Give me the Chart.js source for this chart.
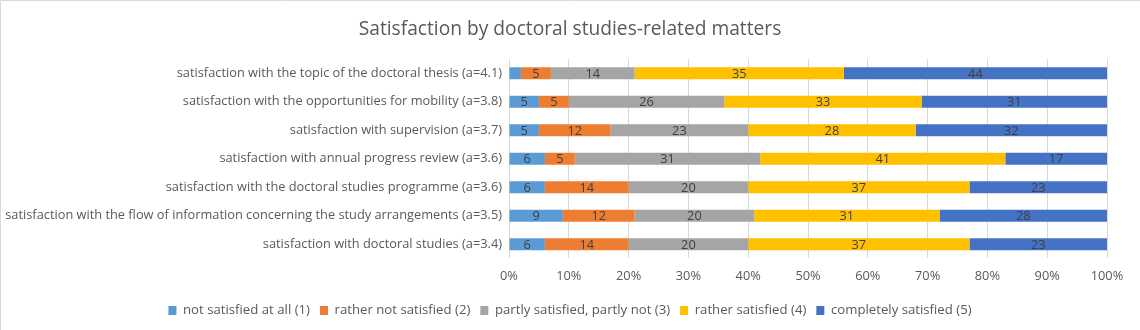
<!DOCTYPE html>
<html>
<head>
<meta charset="utf-8">
<script src="https://cdn.jsdelivr.net/npm/chart.js@4/dist/chart.umd.min.js"></script>
<style>
  html, body { margin: 0; padding: 0; background: #fff; }
  #wrap { width: 1140px; height: 330px; position: relative; }
</style>
</head>
<body>
<div id="wrap"><canvas id="c" width="1140" height="330"></canvas></div>
<script>
const categories = [
  "satisfaction with the topic of the doctoral thesis (a=4.1)",
  "satisfaction with the opportunities for mobility (a=3.8)",
  "satisfaction with supervision (a=3.7)",
  "satisfaction with annual progress review (a=3.6)",
  "satisfaction with the doctoral studies programme (a=3.6)",
  "satisfaction with the flow of information concerning the study arrangements (a=3.5)",
  "satisfaction with doctoral studies (a=3.4)"
];
const seriesNames = [
  "not satisfied at all (1)",
  "rather not satisfied (2)",
  "partly satisfied, partly not (3)",
  "rather satisfied (4)",
  "completely satisfied (5)"
];
const notSatisfied       = [2, 5, 5, 6, 6, 9, 6];
const ratherNotSatisfied = [5, 5, 12, 5, 14, 12, 14];
const partlySatisfied    = [14, 26, 23, 31, 20, 20, 20];
const ratherSatisfied    = [35, 33, 28, 41, 37, 31, 37];
const completelySatisfied= [44, 31, 32, 17, 23, 28, 23];
const xTicks = [0, 10, 20, 30, 40, 50, 60, 70, 80, 90, 100];
const colors = ["#5B9BD5", "#ED7D31", "#A5A5A5", "#FFC000", "#4472C4"];

const seriesValues = [notSatisfied, ratherNotSatisfied, partlySatisfied, ratherSatisfied, completelySatisfied];
const FONT = "'Open Sans', 'Liberation Sans', Arial, sans-serif";

const frame = {
  id: 'frame',
  afterLayout(chart) {
    // center title and legend on the full canvas width
    [chart.titleBlock, chart.legend].forEach(b => {
      if (!b) return;
      b.left = 0; b.right = chart.width; b.width = chart.width;
    });
  },
  beforeDraw(chart) {
    const ctx = chart.ctx;
    ctx.save();
    ctx.fillStyle = '#fff';
    ctx.fillRect(0, 0, chart.width, chart.height);
    ctx.strokeStyle = '#d9d9d9';
    ctx.lineWidth = 1;
    ctx.beginPath();
    ctx.moveTo(0.5, chart.height);
    ctx.lineTo(0.5, 0.5);
    ctx.lineTo(chart.width, 0.5);
    ctx.stroke();
    ctx.restore();
  }
};

const barLabels = {
  id: 'barLabels',
  afterDatasetsDraw(chart) {
    const ctx = chart.ctx;
    ctx.save();
    ctx.font = "12.8px " + FONT;
    ctx.fillStyle = '#404040';
    ctx.textAlign = 'center';
    ctx.textBaseline = 'middle';
    chart.data.datasets.forEach((ds, di) => {
      const meta = chart.getDatasetMeta(di);
      meta.data.forEach((bar, i) => {
        const v = ds.data[i];
        if (v < 3) return;
        const cx = (bar.x + bar.base) / 2;
        ctx.fillText(String(v), cx, bar.y + 1);
      });
    });
    ctx.restore();
  }
};

new Chart(document.getElementById('c'), {
  type: 'bar',
  data: {
    labels: categories,
    datasets: seriesValues.map((vals, i) => ({
      label: seriesNames[i],
      data: vals,
      backgroundColor: colors[i],
      borderWidth: 0,
      barPercentage: 0.42,
      categoryPercentage: 1
    }))
  },
  options: {
    indexAxis: 'y',
    responsive: false,
    animation: false,
    devicePixelRatio: 1,
    layout: { padding: { left: 0, right: 33, top: 0, bottom: 3 } },
    plugins: {
      title: {
        display: true,
        text: "Satisfaction by doctoral studies-related matters",
        color: '#595959',
        font: { family: FONT, size: 19.2, weight: 'normal', lineHeight: 1.2 },
        padding: { top: 18, bottom: 18 }
      },
      legend: {
        position: 'bottom',
        labels: {
          color: '#595959',
          font: { family: FONT, size: 13.2, lineHeight: 1.2 },
          boxWidth: 8,
          boxHeight: 9,
          padding: 10
        }
      },
      tooltip: { enabled: false }
    },
    scales: {
      x: {
        stacked: true,
        min: 0,
        max: 100,
        ticks: {
          stepSize: 10,
          padding: 10,
          color: '#595959',
          font: { family: FONT, size: 12.8, lineHeight: 1.2 },
          callback: (v) => xTicks.includes(v) ? v + '%' : ''
        },
        grid: { color: '#d9d9d9', drawTicks: false },
        border: { display: false }
      },
      y: {
        stacked: true,
        ticks: {
          padding: 7,
          color: '#595959',
          font: { family: FONT, size: 12.8 }
        },
        grid: { display: false, drawTicks: false },
        border: { display: false },
        afterFit(scale) { scale.width = 509; }
      }
    }
  },
  plugins: [frame, barLabels]
});
</script>
</body>
</html>
